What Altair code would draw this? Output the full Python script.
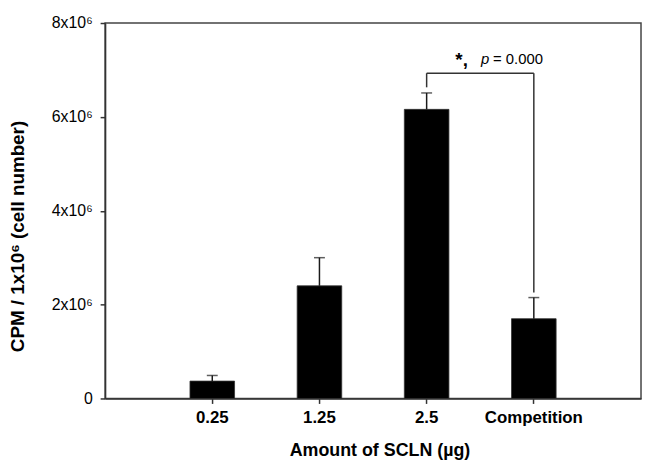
import altair as alt
import pandas as pd

# ---- data ----
categories = ["0.25", "1.25", "2.5", "Competition"]
means = [0.37e6, 2.40e6, 6.16e6, 1.70e6]
errors = [0.12e6, 0.60e6, 0.35e6, 0.45e6]
y_ticks = [0, 2e6, 4e6, 6e6, 8e6]

# significance bracket between "2.5" and "Competition"
bracket_from = "2.5"
bracket_to = "Competition"
bracket_top = 6.93e6
bracket_left_bottom = 6.63e6
bracket_right_bottom = 2.26e6
annot_y = 7.24e6
annot_parts = ["*,", "p", "= 0.000"]

FONT = "Liberation Sans"
INK = "#1a1a1a"

df = pd.DataFrame({
    "cat": categories,
    "mean": means,
    "upper": [m + e for m, e in zip(means, errors)],
})

xscale = alt.Scale(domain=categories, paddingInner=0.584, paddingOuter=0.792)
yscale = alt.Scale(domain=[0, 8e6], nice=False)

x_enc = alt.X(
    "cat:N", scale=xscale,
    axis=alt.Axis(
        title="Amount of SCLN (µg)", labelAngle=0, labelFont=FONT,
        labelFontSize=17, labelFontWeight="bold", labelColor="black",
        labelPadding=6, titleFont=FONT, titleFontSize=18,
        titleFontWeight="bold", titleColor="black",
        titleX=277, titleY=53, titleBaseline="middle",
    ),
)
y_enc = alt.Y(
    "mean:Q", scale=yscale,
    axis=alt.Axis(
        values=y_ticks, grid=False,
        labelExpr="datum.value == 0 ? '0' : (datum.value / 1000000) + 'x10⁶'",
        labelFont=FONT, labelFontSize=16, labelColor="black", labelPadding=8,
        title="CPM / 1x10⁶ (cell number)", titleFont=FONT, titleFontSize=19,
        titleFontWeight="bold", titleColor="black", titleAngle=270,
        titleX=-88, titleY=215, titleAlign="center", titleBaseline="middle",
    ),
)

bars = alt.Chart(df).mark_bar(color="black", stroke="#333", strokeWidth=0.8).encode(
    x=x_enc, y=y_enc
)

err_line = alt.Chart(df).mark_rule(color=INK, strokeWidth=1.5).encode(
    x=alt.X("cat:N", scale=xscale), y=alt.Y("mean:Q", scale=yscale), y2="upper:Q"
)
err_cap = alt.Chart(df).mark_tick(color=INK, size=11, thickness=1.5).encode(
    x=alt.X("cat:N", scale=xscale), y=alt.Y("upper:Q", scale=yscale)
)

br_h = pd.DataFrame({"cat": [bracket_from], "cat2": [bracket_to], "mean": [bracket_top]})
br_v = pd.DataFrame({
    "cat": [bracket_from, bracket_to],
    "mean": [bracket_left_bottom, bracket_right_bottom],
    "top": [bracket_top, bracket_top],
})

bracket_h = alt.Chart(br_h).mark_rule(color="#333", strokeWidth=1.5).encode(
    x=alt.X("cat:N", scale=xscale), x2="cat2:N", y=alt.Y("mean:Q", scale=yscale)
)
bracket_v = alt.Chart(br_v).mark_rule(color="#333", strokeWidth=1.5).encode(
    x=alt.X("cat:N", scale=xscale), y=alt.Y("mean:Q", scale=yscale), y2="top:Q"
)

ann = pd.DataFrame({"cat": [bracket_from], "mean": [annot_y]})
star = alt.Chart(ann).mark_text(
    text=annot_parts[0], align="left", baseline="middle", dx=29, dy=1, font=FONT,
    fontSize=19, fontWeight="bold", color="black"
).encode(x=alt.X("cat:N", scale=xscale), y=alt.Y("mean:Q", scale=yscale))
ptxt = alt.Chart(ann).mark_text(
    text=annot_parts[1], align="left", baseline="middle", dx=55, font=FONT,
    fontSize=15, fontStyle="italic", color="black"
).encode(x=alt.X("cat:N", scale=xscale), y=alt.Y("mean:Q", scale=yscale))
eqtxt = alt.Chart(ann).mark_text(
    text=annot_parts[2], align="left", baseline="middle", dx=67, font=FONT,
    fontSize=15, color="black"
).encode(x=alt.X("cat:N", scale=xscale), y=alt.Y("mean:Q", scale=yscale))

chart = alt.layer(bars, err_line, err_cap, bracket_h, bracket_v, star, ptxt, eqtxt).properties(
    width=541, height=379,
    autosize="none",
    padding={"left": 98, "top": 13, "right": 1, "bottom": 65},
).configure_view(
    stroke="#444", strokeWidth=1.5
).configure_axis(
    domainColor="#333", domainWidth=1.5, tickColor="#333", tickWidth=1.5, tickSize=5
)

chart.save("out.html", embed_options={"renderer": "svg", "actions": False})
